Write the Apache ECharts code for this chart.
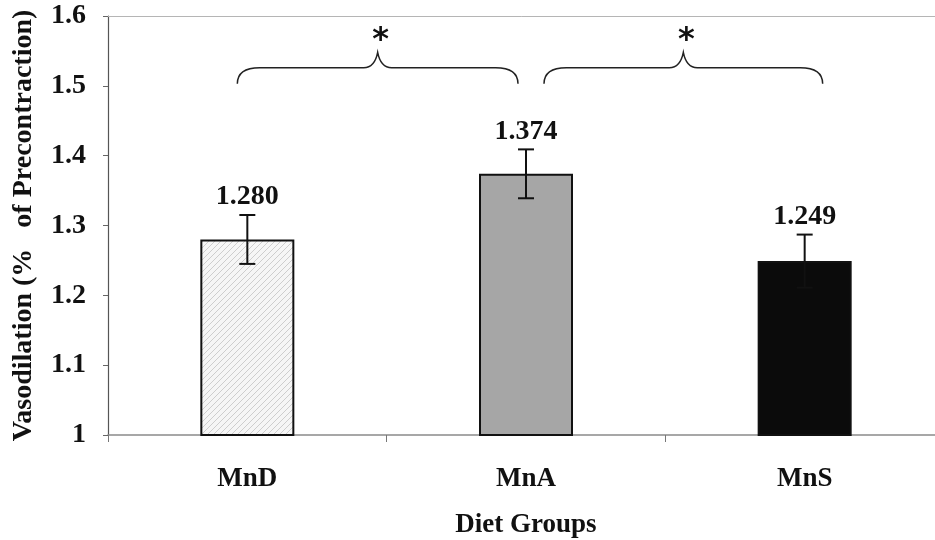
<!DOCTYPE html>
<html>
<head>
<meta charset="utf-8">
<script src="https://cdn.jsdelivr.net/npm/echarts@6/dist/echarts.min.js"></script>
<style>
  html, body { margin: 0; padding: 0; background: #fff; }
  #chart { width: 935px; height: 540px; }
</style>
</head>
<body>
<div id="chart"></div>
<script>
// Diet groups and their mean vasodilation with error (±)
const categories = ['MnD', 'MnA', 'MnS'];
const means = [1.280, 1.374, 1.249];
const errors = [0.035, 0.035, 0.038];
// Significant pairwise comparisons (category indices)
const comparisons = [[0, 1], [1, 2]];
const yTicks = { min: 1, max: 1.6, interval: 0.1 };

const SERIF = '"Liberation Serif", "Times New Roman", serif';

// Diagonal hatch fill for the first group
function hatchPattern() {
  const c = document.createElement('canvas');
  c.width = 6; c.height = 6;
  const g = c.getContext('2d');
  g.fillStyle = '#f6f6f6';
  g.fillRect(0, 0, 6, 6);
  g.strokeStyle = '#c4c4c4';
  g.lineWidth = 0.8;
  g.beginPath();
  g.moveTo(0, 6); g.lineTo(6, 0);
  g.moveTo(-3, 3); g.lineTo(3, -3);
  g.moveTo(3, 9); g.lineTo(9, 3);
  g.stroke();
  return { image: c, repeat: 'repeat' };
}

const barColors = [hatchPattern(), '#a6a6a6', '#0b0b0b'];

const chart = echarts.init(document.getElementById('chart'));

chart.setOption({
  animation: false,
  backgroundColor: '#fff',
  grid: { left: 108, right: -9, top: 16, bottom: 105, outerBoundsMode: 'none', containLabel: false },
  xAxis: [{
    type: 'category',
    data: categories,
    name: 'Diet Groups',
    nameLocation: 'middle',
    nameGap: 77,
    nameTextStyle: { fontFamily: SERIF, fontWeight: 'bold', fontSize: 27, color: '#111' },
    axisLine: { lineStyle: { color: '#8a8a8a', width: 1.5 } },
    axisTick: { show: true, length: 7, inside: false, lineStyle: { color: '#777' } },
    axisLabel: { margin: 31, fontFamily: SERIF, fontWeight: 'bold', fontSize: 27, color: '#111' }
  }, {
    type: 'category',
    data: categories,
    position: 'top',
    axisLine: { show: true, lineStyle: { color: '#b5b5b5', width: 1 } },
    axisTick: { show: false },
    axisLabel: { show: false }
  }],
  yAxis: {
    type: 'value',
    min: yTicks.min,
    max: yTicks.max,
    interval: yTicks.interval,
    name: 'Vasodilation (%   of Precontraction)',
    nameLocation: 'middle',
    nameGap: 70,
    nameTextStyle: { fontFamily: SERIF, fontWeight: 'bold', fontSize: 28, color: '#111' },
    axisLine: { show: true, lineStyle: { color: '#555', width: 1.2 } },
    axisTick: { show: true, length: 5, lineStyle: { color: '#666' } },
    splitLine: { show: false },
    axisLabel: { margin: 22, fontFamily: SERIF, fontWeight: 'bold', fontSize: 28, color: '#111' }
  },
  series: [{
    type: 'bar',
    barWidth: 94,
    data: means.map((v, i) => ({
      value: v,
      itemStyle: { color: barColors[i], borderColor: '#111', borderWidth: 2 }
    })),
    z: 2
  }, {
    // error bars with value labels above
    type: 'custom',
    z: 5,
    data: means.map((v, i) => [i, v, errors[i]]),
    renderItem: function (params, api) {
      const i = api.value(0), m = api.value(1), e = api.value(2);
      const top = api.coord([i, m + e]);
      const bot = api.coord([i, m - e]);
      const cap = 8;
      const st = { stroke: '#111', lineWidth: 2 };
      return {
        type: 'group',
        children: [
          { type: 'line', shape: { x1: top[0], y1: top[1], x2: bot[0], y2: bot[1] }, style: st },
          { type: 'line', shape: { x1: top[0] - cap, y1: top[1], x2: top[0] + cap, y2: top[1] }, style: st },
          { type: 'line', shape: { x1: bot[0] - cap, y1: bot[1], x2: bot[0] + cap, y2: bot[1] }, style: st },
          {
            type: 'text',
            style: {
              x: top[0], y: top[1] - 4,
              text: m.toFixed(3),
              textAlign: 'center', textVerticalAlign: 'bottom',
              font: 'bold 28px ' + SERIF, fill: '#111'
            }
          }
        ]
      };
    }
  }, {
    // curly braces with significance stars
    type: 'custom',
    z: 5,
    data: comparisons,
    renderItem: function (params, api) {
      const a = api.value(0), b = api.value(1);
      const pa = api.coord([a, 1.5]);
      const pb = api.coord([b, 1.5]);
      const x1 = pa[0] - 10 + (a > 0 ? 28 : 0);
      const x2 = pb[0] - 8 + (b > 1 ? 26 : 0);
      const yEnd = api.coord([a, 1.503])[1];
      const yMid = api.coord([a, 1.526])[1];
      const yTip = api.coord([a, 1.548])[1];
      const xm = (x1 + x2) / 2;
      const r = 14;
      const path =
        'M' + x1 + ' ' + yEnd +
        ' Q' + x1 + ' ' + yMid + ' ' + (x1 + r * 1.6) + ' ' + yMid +
        ' L' + (xm - r) + ' ' + yMid +
        ' Q' + (xm - 3) + ' ' + yMid + ' ' + xm + ' ' + yTip +
        ' Q' + (xm + 3) + ' ' + yMid + ' ' + (xm + r) + ' ' + yMid +
        ' L' + (x2 - r * 1.6) + ' ' + yMid +
        ' Q' + x2 + ' ' + yMid + ' ' + x2 + ' ' + yEnd;
      return {
        type: 'group',
        children: [
          { type: 'path', shape: { pathData: path }, style: { fill: 'none', stroke: '#222', lineWidth: 1.5 } },
          {
            type: 'text',
            style: {
              x: xm + 3, y: yTip - 12,
              text: '*',
              textAlign: 'center', textVerticalAlign: 'middle',
              font: 'bold 32px "DejaVu Sans", sans-serif', fill: '#111'
            }
          }
        ]
      };
    }
  }]
});
</script>
</body>
</html>
